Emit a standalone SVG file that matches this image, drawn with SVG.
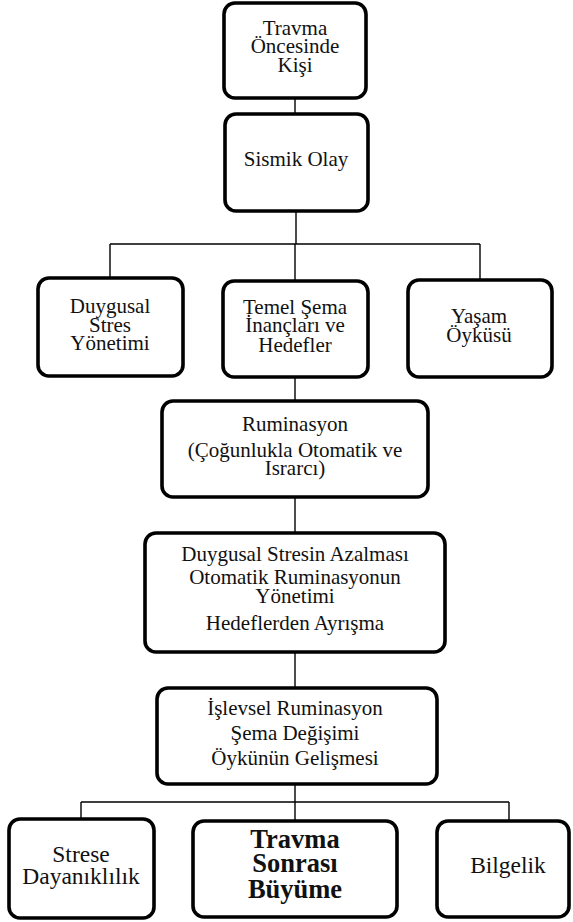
<svg xmlns="http://www.w3.org/2000/svg" width="573" height="922" viewBox="0 0 573 922">
<style>
.box{fill:#fff;stroke:#000;stroke-width:3.6}
.ln{fill:none;stroke:#000;stroke-width:1.4}
.t{font-size:21px;fill:#111;text-anchor:middle}
.big{font-size:23.5px}
.bold{font-size:26.5px;font-weight:bold}
</style>
<rect width="573" height="922" fill="#fff"/>
<g id="connectors">
<path class="ln" d="M295,98V114"/>
<path class="ln" d="M296,211V244M110,244H480M110,244V278M295,244V281M480,244V280"/>
<path class="ln" d="M295,377V401"/>
<path class="ln" d="M295,497V533"/>
<path class="ln" d="M295,652V688"/>
<path class="ln" d="M295,784V802M81,802H509M81,802V819M295,802V821M509,802V821"/>
</g>
<g class="t" font-family="'Liberation Serif', 'Times New Roman', 'DejaVu Serif', serif">
<g id="n1">
<rect class="box" x="224" y="3" width="142" height="95" rx="11"/>
<text x="295" y="35">Travma</text>
<text x="295" y="53">Öncesinde</text>
<text x="295" y="72">Kişi</text>
</g>
<g id="n2">
<rect class="box" x="225" y="114" width="143" height="97" rx="11"/>
<text x="296" y="166">Sismik Olay</text>
</g>
<g id="n3">
<rect class="box" x="38" y="278" width="145" height="98" rx="11"/>
<text x="110" y="313">Duygusal</text>
<text x="110" y="332">Stres</text>
<text x="110" y="350">Yönetimi</text>
</g>
<g id="n4">
<rect class="box" x="223" y="281" width="145" height="96" rx="11"/>
<text x="295" y="314">Temel Şema</text>
<text x="295" y="332">İnançları ve</text>
<text x="295" y="352">Hedefler</text>
</g>
<g id="n5">
<rect class="box" x="408" y="280" width="144" height="97" rx="11"/>
<text x="479" y="323">Yaşam</text>
<text x="479" y="342">Öyküsü</text>
</g>
<g id="n6">
<rect class="box" x="162" y="401" width="266" height="96" rx="11"/>
<text x="295" y="431">Ruminasyon</text>
<text x="295" y="457">(Çoğunlukla Otomatik ve</text>
<text x="295" y="475">Israrcı)</text>
</g>
<g id="n7">
<rect class="box" x="145" y="533" width="300" height="119" rx="11"/>
<text x="295" y="561">Duygusal Stresin Azalması</text>
<text x="295" y="584">Otomatik Ruminasyonun</text>
<text x="295" y="603">Yönetimi</text>
<text x="295" y="630">Hedeflerden Ayrışma</text>
</g>
<g id="n8">
<rect class="box" x="157" y="688" width="280" height="96" rx="11"/>
<text x="295" y="715">İşlevsel Ruminasyon</text>
<text x="295" y="740">Şema Değişimi</text>
<text x="295" y="765">Öykünün Gelişmesi</text>
</g>
<g id="n9">
<rect class="box" x="9" y="819" width="145" height="99" rx="11"/>
<text class="big" x="81" y="862">Strese</text>
<text class="big" x="81" y="884">Dayanıklılık</text>
</g>
<g id="n10">
<rect class="box" x="193" y="821" width="204" height="96" rx="11"/>
<text class="bold" x="295" y="848">Travma</text>
<text class="bold" x="295" y="872">Sonrası</text>
<text class="bold" x="295" y="898">Büyüme</text>
</g>
<g id="n11">
<rect class="box" x="437" y="821" width="132" height="96" rx="11"/>
<text class="big" x="508" y="873">Bilgelik</text>
</g>
</g>
</svg>
